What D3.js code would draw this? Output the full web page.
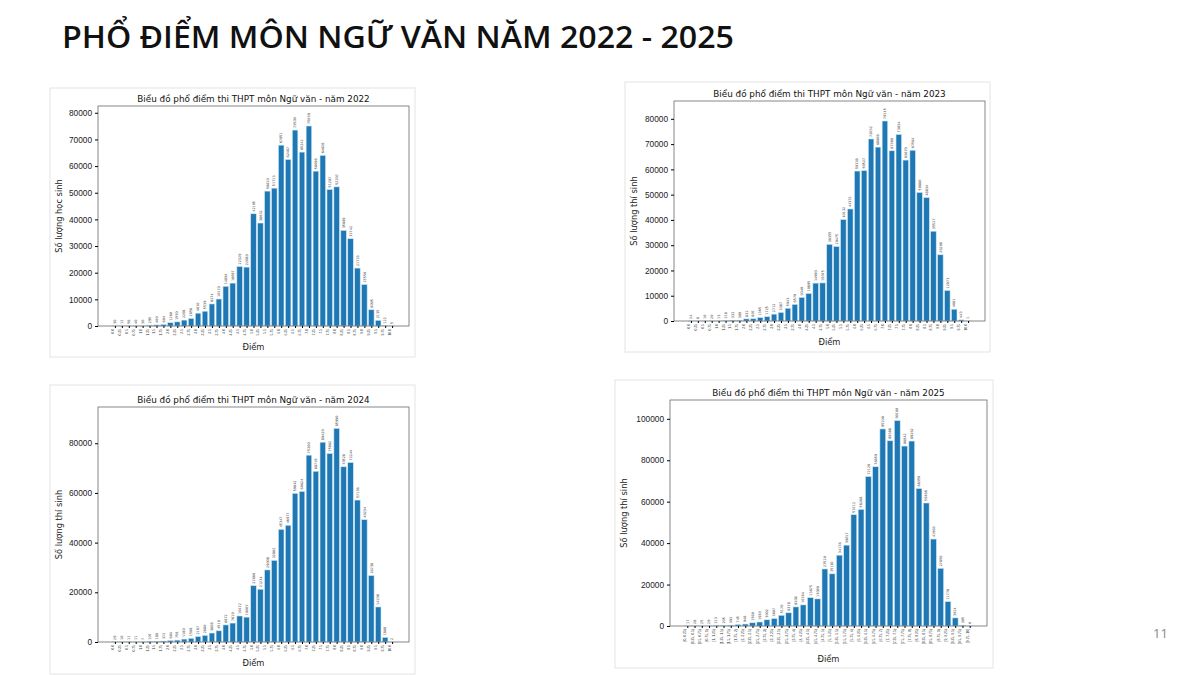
<!DOCTYPE html>
<html><head><meta charset="utf-8">
<script src="https://cdn.jsdelivr.net/npm/d3@7"></script>
<style>body{margin:0;background:#fff;font-family:"DejaVu Sans",sans-serif}</style>
</head><body><svg id="slide" width="1200" height="675"></svg>
<script>
// score bins 0..10 step 0.25
const scoreLabels = d3.range(41).map(i => { const v = i * 0.25; return Number.isInteger(v) ? v.toFixed(1) : String(v) })
const intervalLabels = d3.range(40).map(i => {
  const a = i * 0.25, b = (i + 1) * 0.25
  return `[${a}, ${b}${i == 39 ? ']' : ')'}`
})

const counts2022 = [30,12,56,40,30,295,400,604,1260,1550,2208,2856,4810,5539,8274,10119,14894,16097,22329,22089,42105,38632,50610,51713,67851,62467,73509,65242,75039,58096,64026,51207,52207,35889,32742,21733,15550,6095,2135,122,5]
const counts2023 = [24,8,10,20,13,216,332,300,832,897,1365,1725,2712,3387,5043,6570,9340,10895,14990,15075,30355,29475,40132,44331,59338,59527,72032,68808,79145,67360,73834,63679,67564,50880,48834,35527,26208,12073,4661,443,1]
const counts2024 = [29,10,11,11,7,107,189,372,604,758,1180,1508,2187,2680,3608,4510,6872,7619,10472,10007,22680,21234,29008,32862,45347,46977,59842,60624,75200,68719,80420,75862,85990,70528,72244,57136,49234,26738,14108,1868,2]
const counts2025 = [17,28,25,29,213,205,392,745,948,1560,1930,3002,3607,5170,6378,9208,10184,13675,13089,27520,25181,34178,39017,53712,56268,72120,76859,95100,89388,99160,86842,89262,66350,59366,41963,27850,11778,3914,365,6]

const svg = d3.select('#slide')

svg.append('text').text('PHỔ ĐIỂM MÔN NGỮ VĂN NĂM 2022 - 2025')
  .attr('x', 62).attr('y', 48).attr('font-family', '"Open Sans",sans-serif').attr('font-weight', 600)
  .attr('font-size', 31).attr('textLength', 672).attr('lengthAdjust', 'spacingAndGlyphs').attr('fill', '#111')
svg.append('text').text('11').attr('x', 1153).attr('y', 638)
  .attr('font-family', '"Open Sans",sans-serif').attr('font-size', 13).attr('fill', '#888')

const panels = [
  { year: 2022, data: counts2022, labels: scoreLabels, ylab: 'Số lượng học sinh', yticks: 8, box: [50, 88, 365, 269], plot: [98, 106, 409, 326] },
  { year: 2023, data: counts2023, labels: scoreLabels, ylab: 'Số lượng thí sinh', yticks: 8, box: [625, 82, 365, 270], plot: [674, 101, 985, 321] },
  { year: 2024, data: counts2024, labels: scoreLabels, ylab: 'Số lượng thí sinh', yticks: 5, box: [50, 385, 365, 289], plot: [98, 407, 409, 642] },
  { year: 2025, data: counts2025, labels: intervalLabels, ylab: 'Số lượng thí sinh', yticks: 5, box: [615, 380, 378, 288], plot: [670, 400, 987, 626] },
]

panels.forEach(p => {
  const [bx, by, bw, bh] = p.box
  const [l, t, r, b] = p.plot
  const n = p.data.length
  svg.append('rect').attr('x', bx).attr('y', by).attr('width', bw).attr('height', bh)
    .attr('fill', '#fff').attr('stroke', '#e4e4e4')
  const g = svg.append('g')

  const span = n - 0.2
  const x = d3.scaleLinear().domain([-0.4 - 0.05 * span, n - 0.6 + 0.05 * span]).range([l, r])
  const y = d3.scaleLinear().domain([0, d3.max(p.data) * 1.1]).range([b, t])
  const step = x(1) - x(0)

  g.selectAll('rect.bar').data(p.data).join('rect').attr('class', 'bar')
    .attr('x', (d, i) => x(i - 0.4)).attr('width', step * 0.8)
    .attr('y', d => y(d)).attr('height', d => b - y(d))
    .attr('fill', '#1f77b4').attr('stroke', '#c9e6f5').attr('stroke-width', 0.6)

  g.selectAll('text.val').data(p.data).join('text').attr('class', 'val')
    .text(d => d)
    .attr('transform', (d, i) => `translate(${x(i) + 1.2},${y(d) - 2})rotate(-90)`)
    .attr('font-size', 3.4).attr('fill', '#333')

  g.append('rect').attr('x', l).attr('y', t).attr('width', r - l).attr('height', b - t)
    .attr('fill', 'none').attr('stroke', '#555').attr('stroke-width', 0.7)

  const ya = g.append('g').attr('transform', `translate(${l},0)`)
    .call(d3.axisLeft(y).ticks(p.yticks).tickFormat(d3.format('d')).tickSize(3))
  ya.select('.domain').remove()
  ya.selectAll('text').attr('font-size', 8.3).attr('fill', '#222')

  const xa = g.append('g').attr('transform', `translate(0,${b})`)
    .call(d3.axisBottom(x).tickValues(d3.range(n)).tickFormat(i => p.labels[i]).tickSize(2))
  xa.select('.domain').remove()
  xa.selectAll('text').attr('font-size', 3.4).attr('fill', '#333')
    .attr('transform', 'rotate(-90)').attr('text-anchor', 'end')
    .attr('dx', -3).attr('dy', -1.5).attr('y', 0).attr('x', 0)

  g.append('text').text(`Biểu đồ phổ điểm thi THPT môn Ngữ văn - năm ${p.year}`)
    .attr('x', (l + r) / 2).attr('y', t - 4).attr('text-anchor', 'middle')
    .attr('font-size', 8.8).attr('fill', '#111')
  g.append('text').text('Điểm').attr('x', (l + r) / 2).attr('y', p.year == 2025 ? 662 : b + 24)
    .attr('text-anchor', 'middle').attr('font-size', 8.3).attr('fill', '#222')
  g.append('text').text(p.ylab)
    .attr('transform', `translate(${bx + 12},${(t + b) / 2})rotate(-90)`)
    .attr('text-anchor', 'middle').attr('font-size', 8.3).attr('fill', '#222')
})
</script></body></html>
